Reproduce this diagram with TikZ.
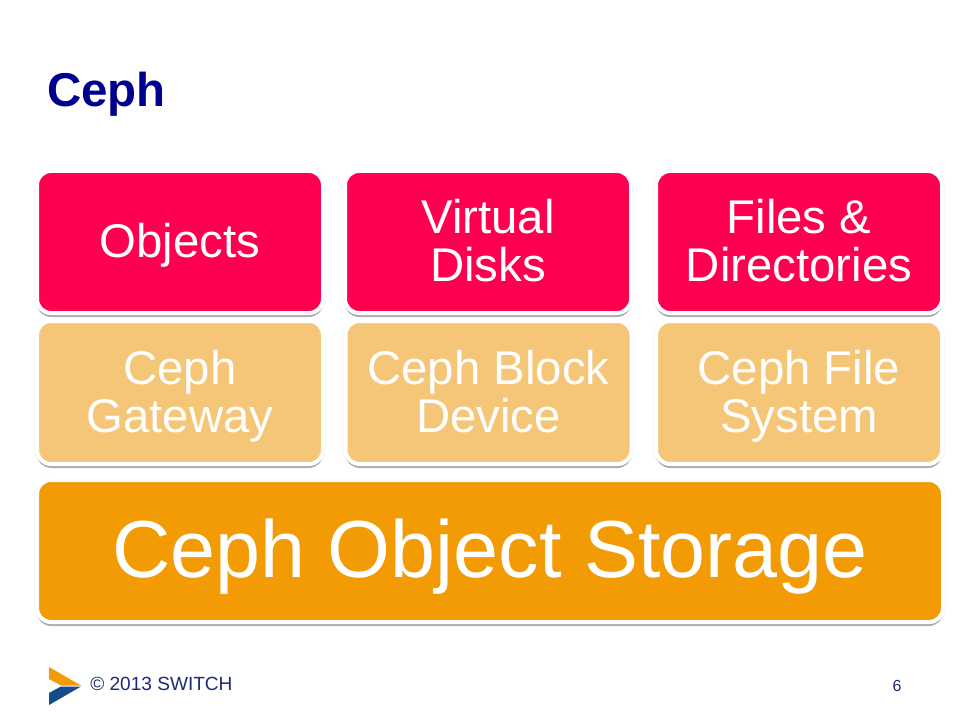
\documentclass[tikz,border=0pt]{standalone}
\usepackage{fontspec}
\setmainfont{Liberation Sans}
\usetikzlibrary{shadows}
\definecolor{crimson}{HTML}{FF0050}
\definecolor{sand}{HTML}{F5C677}
\definecolor{amber}{HTML}{F29B04}
\definecolor{titleblue}{HTML}{00008F}
\definecolor{footblue}{HTML}{1B2C78}
\lineskiplimit=-100pt
\newcommand{\tst}{\vrule height .9em depth .22em width 0pt\relax}
\newcommand{\tsu}{\vrule height .9em depth .26em width 0pt\relax}
\newcommand{\bst}{\vrule height .877em depth .223em width 0pt\relax}
\tikzset{
  x=0.75pt,y=-0.75pt,
  blockbox/.style={draw=white,line width=3pt,rounded corners=10.5pt,
    drop shadow={shadow xshift=0pt,shadow yshift=-0.6pt,draw=black,line width=3.9pt,fill=black,opacity=.05},
    drop shadow={shadow xshift=0pt,shadow yshift=-3pt,opacity=.38,fill=black!80},
    align=center,text=white,inner sep=0pt,
    font=\fontsize{35.5}{36}\selectfont},
  topbox/.style={blockbox,fill=crimson,minimum height=106.5pt,minimum width=214.5pt},
  midbox/.style={blockbox,fill=sand,minimum height=107.25pt,minimum width=214.5pt},
}
\begin{document}
\begin{tikzpicture}
\useasboundingbox[fill=white] (0,0) rectangle (960,720);
\node[anchor=west,text=titleblue,inner sep=0pt,font=\fontsize{35.6}{40}\selectfont\bfseries] (title) at (47,94.5) {Ceph};

\node[topbox] (objects) at (180,242) {\tsu Objects};
\node[topbox] (disks) at (488,242) {\tst Virtual\\\tsu Disks};
\node[topbox] (files) at (799,242) {\tst Files \&\\\tsu Directories};

\node[midbox] (gateway) at (180,392.5) {\tst Ceph\\\tst Gateway};
\node[midbox] (block) at (488.5,392.5) {\tst Ceph Block\\\tst Device};
\node[midbox] (fs) at (799,392.5) {\tst Ceph File\\\tst System};

\node[blockbox,fill=amber,minimum width=679.5pt,minimum height=106.5pt,font=\fontsize{60.7}{64}\selectfont] (storage) at (490,551) {\bst Ceph Object Storage};

\fill[color=amber] (49,667) -- (81,685.5) -- (61,685.5) -- (49,679) -- cycle;
\fill[color={rgb,255:red,20;green,76;blue,140}] (81,686.5) -- (49,705) -- (49,693) -- (61,686.5) -- cycle;

\node[anchor=west,text=footblue,inner sep=0pt,font=\fontsize{14.3}{16}\selectfont] (copy) at (90,684) {© 2013 SWITCH};
\node[anchor=center,text=footblue,inner sep=0pt,font=\fontsize{12}{14}\selectfont] (page) at (897,686) {6};
\end{tikzpicture}
\end{document}
